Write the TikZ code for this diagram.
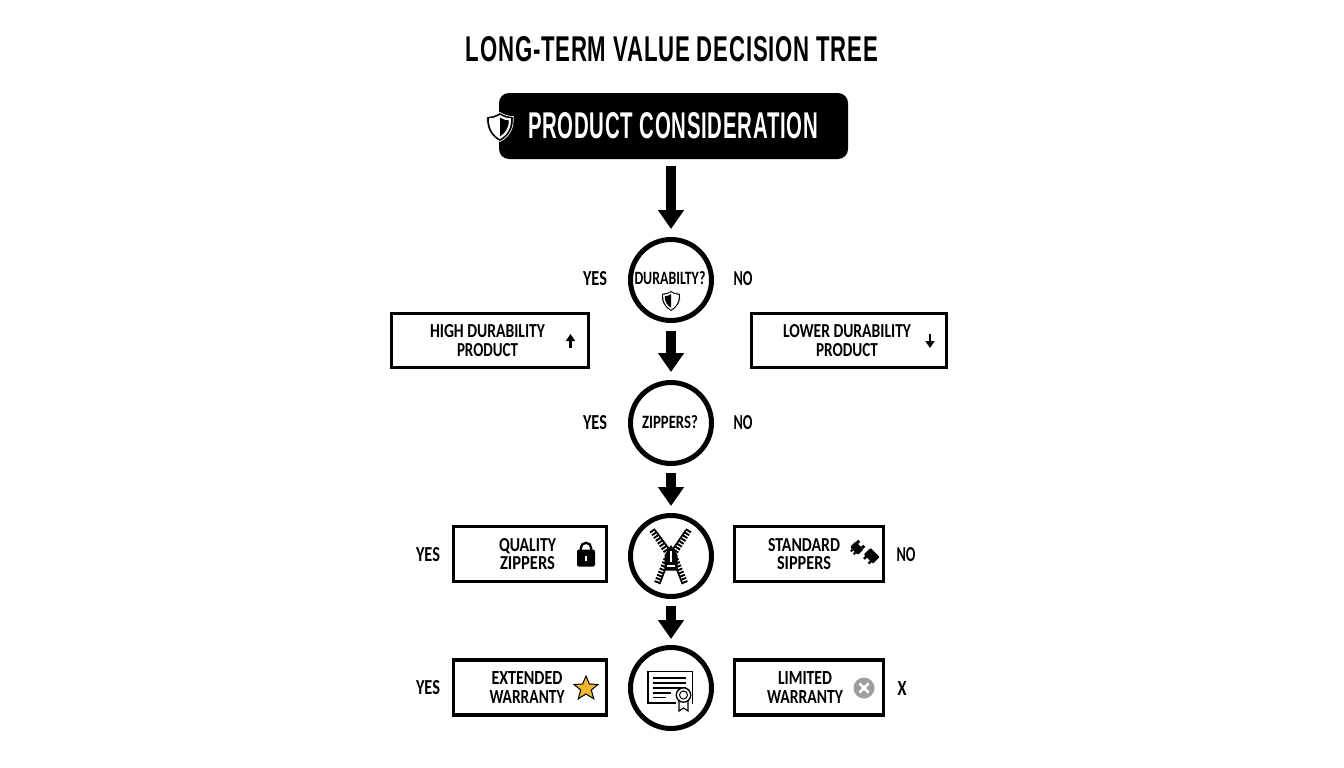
\documentclass[tikz,border=0pt]{standalone}
\usepackage{graphicx}
\usepackage{fontspec}
\setmainfont{Carlito}
\newfontfamily\titlefont{Liberation Sans}[LetterSpace=3.5]
\usetikzlibrary{arrows.meta}
\newcommand\fitt[3]{\resizebox{#1pt}{#2pt}{#3}}
% x, y, scale, xscale sign of the black half
\newcommand\shieldicon[4]{%
 \begin{scope}[shift={(#1,#2)},scale=#3]
  \fill[black,draw=white,line width=0.7pt] (0,-14.5) .. controls (5,-11.5) and (9,-10.5) .. (13.3,-10.5) .. controls (14,2) and (9,10) .. (0,14.5) .. controls (-9,10) and (-14,2) .. (-13.3,-10.5) .. controls (-9,-10.5) and (-5,-11.5) .. (0,-14.5) -- cycle;
  \fill[white] (0,-12) .. controls (4,-9.7) and (7,-8.7) .. (11,-8.7) .. controls (11.5,1) and (7,8) .. (0,12) .. controls (-7,8) and (-11.5,1) .. (-11,-8.7) .. controls (-7,-8.7) and (-4,-9.7) .. (0,-12) -- cycle;
  \begin{scope}[xscale=#4]
   \fill[black] (0,-9.5) .. controls (3,-7.5) and (5,-6.7) .. (8.7,-6.7) .. controls (9,1) and (5,6) .. (0,9.5) -- cycle;
  \end{scope}
 \end{scope}}
\tikzset{
 txt/.style={inner sep=0pt,outer sep=0pt,font=\bfseries\fontsize{13}{18.5}\selectfont,align=center},
 question/.style={circle,draw=black,line width=5pt,minimum size=81pt,inner sep=0pt,fill=white},
 outcome/.style={rectangle,draw=black,line width=3.4pt,fill=white,inner sep=0pt},
 flow/.style={line width=10.5pt,-{Triangle[width=25pt,length=19pt]},black},
 tiny/.style={line width=2.6pt,-{Triangle[width=9pt,length=7pt]},black},
}
\begin{document}
\begin{tikzpicture}[x=1pt,y=-1pt]
\useasboundingbox (0,0) rectangle (1344,768);
\fill[white] (0,0) rectangle (1344,768);
\node[txt] (title) at (672,49.5) {\titlefont\bfseries\fitt{412}{25}{LONG-TERM VALUE DECISION TREE}};
\node[fill=black,rounded corners=10pt,minimum width=349pt,minimum height=66pt,inner sep=0pt] (start) at (673.5,126) {};
\node[txt,text=white] (starttext) at (673,126) {\titlefont\bfseries\fitt{290}{26}{PRODUCT CONSIDERATION}};
\shieldicon{500}{127}{1}{1}
% questions
\node[question] (q1) at (671,280) {};
\node[question] (q2) at (671,423) {};
\node[question] (q3) at (671,556) {};
\node[question] (q4) at (671,688) {};
\draw[flow,shorten <=7pt,shorten >=8pt] (start.south -| q1) -- (q1.north);
\draw[flow,shorten <=8pt,shorten >=8pt] (q1.south) -- (q2.north);
\draw[flow,shorten <=7pt,shorten >=7pt] (q2.south) -- (q3.north);
\draw[flow,shorten <=7pt,shorten >=6pt] (q3.south) -- (q4.north);
\node[txt] (q1t) at (670,278) {\fitt{71}{13}{DURABILTY?}};
\node[txt] (q2t) at (670,422) {\fitt{56}{13}{ZIPPERS?}};
\shieldicon{671}{301}{0.72}{-1}
% side labels
\node[txt] (y1) at (595,279) {\fitt{24}{14}{YES}};
\node[txt] (n1) at (743,279) {\fitt{19}{14}{NO}};
\node[txt] (y2) at (595,423) {\fitt{24}{14}{YES}};
\node[txt] (n2) at (743,423) {\fitt{19}{14}{NO}};
\node[txt] (y3) at (428,555) {\fitt{24}{14}{YES}};
\node[txt] (n3) at (906,555) {\fitt{19}{14}{NO}};
\node[txt] (y4) at (428,688) {\fitt{24}{14}{YES}};
\node[txt] (x4) at (902,688) {\fitt{9}{14}{X}};
% boxes
\node[outcome,minimum width=197pt,minimum height=54pt] (high) at (490,340.5) {};
\node[outcome,minimum width=195pt,minimum height=54pt] (low) at (849,340.5) {};
\node[outcome,minimum width=153pt,minimum height=55pt] (qual) at (530,554) {};
\node[outcome,minimum width=149pt,minimum height=55pt] (std) at (809,554) {};
\node[outcome,minimum width=153pt,minimum height=55pt] (ext) at (530,687.5) {};
\node[outcome,minimum width=149pt,minimum height=55pt] (lim) at (809,687.5) {};
\node[txt] (hight) at (487.5,340.5) {\fitt{115}{13}{HIGH DURABILITY}\\\fitt{61}{13}{PRODUCT}};
\node[txt] (lowt) at (847,340.5) {\fitt{128}{13}{LOWER DURABILITY}\\\fitt{62}{13}{PRODUCT}};
\node[txt] (qualt) at (527.5,554) {\fitt{57}{13}{QUALITY}\\\fitt{55}{13}{ZIPPERS}};
\node[txt] (stdt) at (804,554) {\fitt{72}{13}{STANDARD}\\\fitt{54}{13}{SIPPERS}};
\node[txt] (extt) at (527,687.5) {\fitt{71}{13}{EXTENDED}\\\fitt{75}{13}{WARRANTY}};
\node[txt] (limt) at (805,687.5) {\fitt{54}{13}{LIMITED}\\\fitt{76}{13}{WARRANTY}};
% small arrows
\draw[tiny] (570.5,348) -- (570.5,334);
\draw[tiny] (930,334) -- (930,348);
% lock
\draw[line width=2.3pt] (580.8,550) -- (580.8,548) arc[start angle=180,end angle=360,radius=5.2] -- (591.2,550);
\fill[black,rounded corners=2pt] (577,549.5) rectangle (595,566.5);
\fill[white] (584.7,555.5) rectangle (587.3,560.5);
% plug
\begin{scope}[shift={(857.5,547.5)},rotate=45]
 \fill[black,rounded corners=1pt] (-5,-5.5) rectangle (3,5.5);
 \fill[black] (3,-5) rectangle (6,-2) (3,2) rectangle (6,5);
 \fill[black] (-7.5,-3) rectangle (-5,-1) (-7.5,1) rectangle (-5,3);
\end{scope}
\begin{scope}[shift={(870.5,557)},rotate=45]
 \fill[black,rounded corners=1pt] (-3,-6.5) rectangle (6.5,6.5);
 \fill[black] (-6,-4.5) rectangle (-3,-2) (-6,2) rectangle (-3,4.5);
\end{scope}
% star
\draw[draw=black,line width=1pt,line join=miter,fill={rgb,255:red,240;green,182;blue,47}]
 (586,676) -- (589.4,684) -- (598,684.5) -- (591.3,690) -- (593.8,698.8) -- (586,694) -- (578.2,698.8) -- (580.7,690) -- (574,684.5) -- (582.6,684) -- cycle;
% x circle
\fill[black!38] (864,688) circle[radius=10.5];
\draw[white,line width=2.8pt] (859.5,683.5) -- (868.5,692.5) (868.5,683.5) -- (859.5,692.5);
% zipper icon
\foreach \a/\b/\c/\d in {652/530/667/552, 689/530/675/552, 657/583/667/558, 685/583/675/558}{
  \draw[line width=6pt,dash pattern=on 1.9pt off 1.5pt] (\a,\b) -- (\c,\d);
}
\draw[line width=1.7pt] (655,530) -- (669,549) (686,530) -- (673,549);
\draw[line width=1.7pt] (659.5,584) -- (668,562) (682.5,584) -- (674,562);
\fill[black] (671,545) -- (677.5,555) -- (677.5,570.5) -- (664.5,570.5) -- (664.5,555) -- cycle;
\fill[white] (669.7,551) rectangle (672.3,562);
\fill[white] (667,565) rectangle (675,567);
% certificate
\draw[line width=1.3pt] (648,671.5) rectangle (692.5,703);
\draw[line width=1.5pt] (653,678) -- (686,678) (653,683) -- (686,683) (653,688) -- (686,688);
\draw[line width=1.5pt] (653,693) -- (671,693) (653,697.5) -- (666,697.5);
\fill[white] (676,698) rectangle (692,712);
\draw[line width=1.2pt,fill=white] (679,700) -- (679,711) -- (683.5,708) -- (688,711) -- (688,700);
\draw[line width=1.3pt,fill=white] (683.5,695) circle[radius=7.2];
\draw[line width=1pt] (683.5,695) circle[radius=4];
\end{tikzpicture}
\end{document}
